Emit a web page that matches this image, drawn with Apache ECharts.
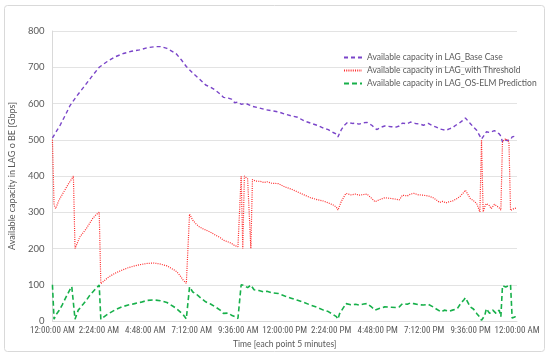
<!DOCTYPE html>
<html><head><meta charset="utf-8">
<script src="https://cdn.jsdelivr.net/npm/echarts@6/dist/echarts.min.js"></script>
<style>html,body{margin:0;padding:0;background:#fff}#c{width:550px;height:359px}</style>
</head><body><div id="c"></div>
<script>
var xTickLabels = ['12:00:00 AM','2:24:00 AM','4:48:00 AM','7:12:00 AM','9:36:00 AM','12:00:00 PM','2:24:00 PM','4:48:00 PM','7:12:00 PM','9:36:00 PM','12:00:00 AM'];
var seriesNames = ['Available capacity in LAG_Base Case','Available capacity in LAG_with Threshold','Available capacity in LAG_OS-ELM Prediction'];

var baseIdx = [0,3,5,8,11,15,19,24,29,34,39,44,49,54,59,64,67,71,75,77,80,83,87,91,95,98,101,104,106,109,111,113,115,117,120,124,128,132,136,140,144,148,152,156,160,164,168,171,174,176,177,179,181,183,186,188,190,193,195,198,201,204,206,210,213,215,217,220,222,225,228,230,233,236,238,240,242,244,246,248,250,252,254,256,257,259,261,263,265,266,267,268,269,271,272,274,275,277,278,279,280,281,282,283,284,285,286,287,288];
var baseVal = [505,527,542,568,595,620,643,672,700,716,729,738,744,748,754,757,757,752,742,736,720,702,684,668,651,645,637,626,617,615,612,602,604,598,600,592,588,583,580,577,571,566,562,552,546,540,532,528,520,516,508,527,540,548,545,546,543,547,548,540,528,535,538,536,535,538,546,544,549,545,543,540,545,538,535,530,528,526,530,533,540,545,552,560,562,545,535,526,510,502,505,515,522,520,518,525,524,516,510,494,500,503,498,494,500,508,510,510,512];

var thrIdx = [0,1,2,4,7,10,12,13,14,17,21,25,27,28,29,30,35,39,43,47,51,55,59,63,67,71,75,77,79,81,83,84,85,87,89,91,93,95,98,101,104,106,109,111,113,115,116,117,118,119,120,121,122,123,124,126,129,131,133,136,140,144,148,152,156,160,164,168,171,174,176,177,179,181,182,185,188,190,193,195,198,200,203,206,210,213,215,217,220,222,224,227,230,233,236,238,240,242,244,246,248,251,253,255,256,257,259,261,263,265,266,267,268,269,271,272,274,275,277,278,279,280,281,282,283,284,285,286,287,288];
var thrVal = [500,320,310,333,356,379,392,400,200,232,255,283,293,297,300,103,122,132,140,147,152,156,159,160,157,152,142,136,126,113,104,101,295,278,268,260,255,251,245,237,230,223,218,214,208,205,202,400,200,400,395,392,390,200,390,386,385,382,384,380,379,370,364,356,348,340,335,331,326,320,314,306,329,345,352,348,350,347,349,350,338,329,335,340,338,336,334,347,345,350,352,348,347,345,340,334,327,330,326,329,331,338,345,355,361,358,338,332,324,301,500,301,315,324,318,310,322,324,312,306,495,500,503,498,494,305,305,310,310,312];

var osIdx = [0,1,2,3,4,6,9,11,12,13,14,16,19,21,23,25,27,29,30,33,35,39,43,47,51,55,59,63,67,71,75,77,79,81,83,84,85,87,89,91,93,95,98,101,104,106,109,111,113,115,116,117,119,121,123,125,128,131,133,136,140,144,148,152,156,160,164,168,171,174,176,177,178,180,182,185,188,190,193,195,198,200,203,206,210,213,215,217,220,222,224,227,230,233,236,238,241,243,246,248,251,253,255,256,257,259,261,263,265,266,267,268,269,271,272,273,275,277,278,279,280,281,282,284,285,286,287,288];
var osVal = [100,5,16,15,28,44,71,88,95,99,5,30,46,57,70,80,90,99,5,15,21,31,39,44,48,52,57,58,56,51,40,34,26,18,6,4,94,80,75,67,60,53,47,39,30,21,22,16,12,7,5,100,98,92,99,86,84,80,82,78,76,69,63,57,51,44,38,30,26,18,12,5,20,34,48,45,46,44,47,48,38,30,35,39,38,37,39,48,46,50,48,45,44,46,39,33,25,30,27,30,34,48,58,64,60,39,33,21,10,2,2,15,34,21,25,30,21,30,12,97,95,94,96,100,8,8,12,10];

var MIN_PER_POINT = 5;
function pairs(idx, val){ return idx.map(function(i,k){ return [i*MIN_PER_POINT, val[k]]; }); }

var txt = '#595959', font = 'Lato';
var narrow = '"Liberation Sans Narrow", "Arial Narrow", "Roboto Condensed", Lato';
var chart = echarts.init(document.getElementById('c'), null, {renderer:'canvas'});
chart.setOption({
  animation:false,
  backgroundColor:'#fff',
  textStyle:{fontFamily:font},
  graphic:[{type:'rect',shape:{x:4.5,y:5.5,width:540,height:346,r:3},style:{fill:'none',stroke:'#d9d9d9',lineWidth:1},silent:true}],
  grid:{left:40,right:33,top:31,bottom:38},
  legend:{
    orient:'vertical', left:338, top:48, itemWidth:18, itemHeight:7, itemGap:4,
    itemStyle:{opacity:0},
    textStyle:{color:txt,fontSize:8.5,fontFamily:font},
    data:seriesNames
  },
  xAxis:{
    type:'value', min:0, max:1440, interval:144,
    name:'Time [each point 5 minutes]', nameLocation:'middle', nameGap:18,
    nameTextStyle:{color:txt,fontSize:8.5,fontFamily:font},
    axisLine:{lineStyle:{color:'#d9d9d9'}}, axisTick:{show:false},
    splitLine:{show:false},
    axisLabel:{color:txt,fontSize:9,fontFamily:narrow,margin:5,showMaxLabel:true,showMinLabel:true,interval:0,hideOverlap:false,
      formatter:function(v){ return xTickLabels[Math.round(v/144)]; }}
  },
  yAxis:{
    type:'value', min:0, max:800, interval:100,
    name:'Available capacity in LAG o BE [Gbps]', nameLocation:'middle', nameGap:26, nameRotate:90,
    nameTextStyle:{color:txt,fontSize:9,fontFamily:font},
    axisLine:{show:true,lineStyle:{color:'#d9d9d9'}}, axisTick:{show:false},
    splitLine:{lineStyle:{color:'#e3e3e3'}},
    axisLabel:{color:txt,fontSize:9.5,fontFamily:font,margin:8}
  },
  series:[
    {name:seriesNames[0],type:'line',data:pairs(baseIdx,baseVal),showSymbol:false,symbol:'none',
     lineStyle:{color:'#7a45c9',width:1.4,type:[4,3]},itemStyle:{color:'#7a45c9'}},
    {name:seriesNames[1],type:'line',data:pairs(thrIdx,thrVal),showSymbol:false,symbol:'none',
     lineStyle:{color:'#ff2a2a',width:1.2,type:[1,1.2]},itemStyle:{color:'#ff2a2a'}},
    {name:seriesNames[2],type:'line',data:pairs(osIdx,osVal),showSymbol:false,symbol:'none',
     lineStyle:{color:'#17b04a',width:1.6,type:[5,3]},itemStyle:{color:'#17b04a'}}
  ]
});
</script></body></html>
